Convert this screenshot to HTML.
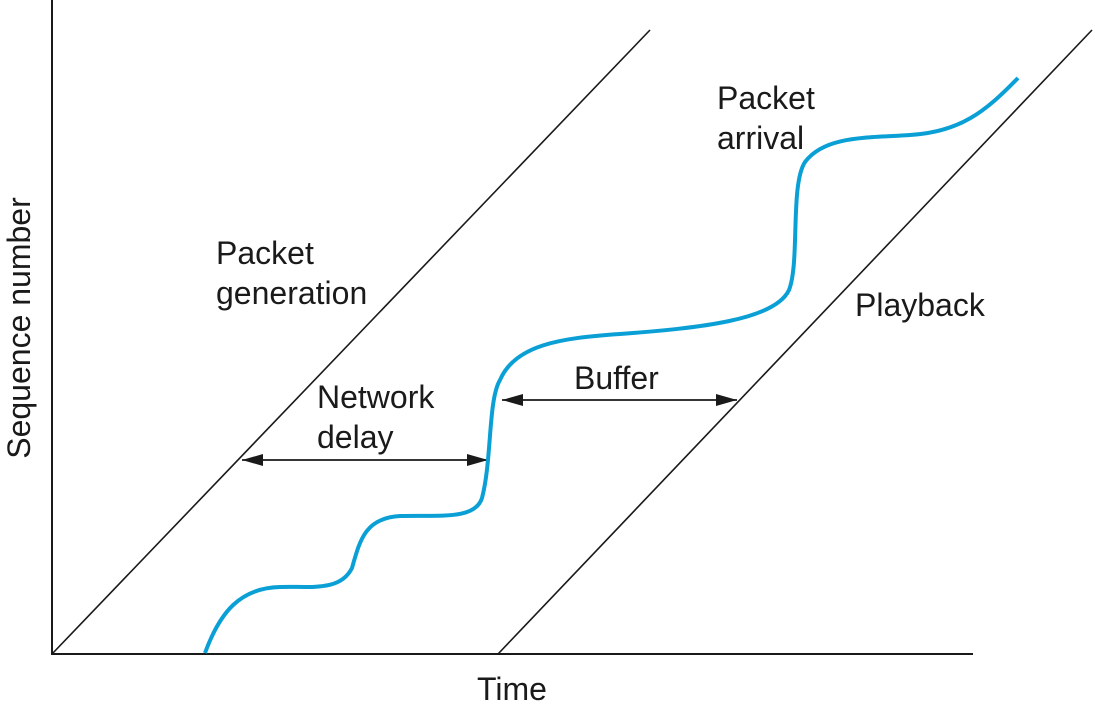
<!DOCTYPE html>
<html><head><style>html,body{margin:0;padding:0;background:#fff;}</style></head>
<body>
<svg width="1095" height="708" viewBox="0 0 1095 708" xmlns="http://www.w3.org/2000/svg" font-family="Liberation Sans, sans-serif" font-size="32" fill="#1a1a1a">
<defs>
<marker id="a" markerWidth="22" markerHeight="14" refX="21" refY="7" orient="auto-start-reverse" markerUnits="userSpaceOnUse"><path d="M0,1 L21,7 L0,13 z" fill="#1a1a1a"/></marker>
</defs>
<g stroke="#1a1a1a" fill="none">
<line x1="52" y1="0" x2="52" y2="655" stroke-width="2"/>
<line x1="51" y1="654" x2="973" y2="654" stroke-width="2"/>
<line x1="52" y1="654" x2="650" y2="30" stroke-width="1.6"/>
<line x1="498" y1="654" x2="1092" y2="30" stroke-width="1.6"/>
<line x1="242" y1="460" x2="488" y2="460" stroke-width="1.8" marker-start="url(#a)" marker-end="url(#a)"/>
<line x1="502" y1="400" x2="737" y2="400" stroke-width="1.8" marker-start="url(#a)" marker-end="url(#a)"/>
</g>
<path d="M205,653 C220,612 240,588 280,587 C310,586 340,592 352,568 C360,540 365,518 400,516 C440,515 475,520 482,498 C492,460 488,400 500,380 C515,345 560,338 620,334 C700,328 775,320 789,290 C800,262 790,185 805,162 C825,135 870,138 910,135 C960,132 985,112 1018,78" fill="none" stroke="#0aa0d6" stroke-width="4"/>
<text x="216" y="264">Packet</text>
<text x="216" y="304">generation</text>
<text x="317" y="408">Network</text>
<text x="317" y="448">delay</text>
<text x="574" y="389">Buffer</text>
<text x="717" y="109">Packet</text>
<text x="717" y="149">arrival</text>
<text x="855" y="316">Playback</text>
<text x="477" y="700">Time</text>
<text transform="translate(30,328) rotate(-90)" text-anchor="middle">Sequence number</text>
</svg>
</body></html>
